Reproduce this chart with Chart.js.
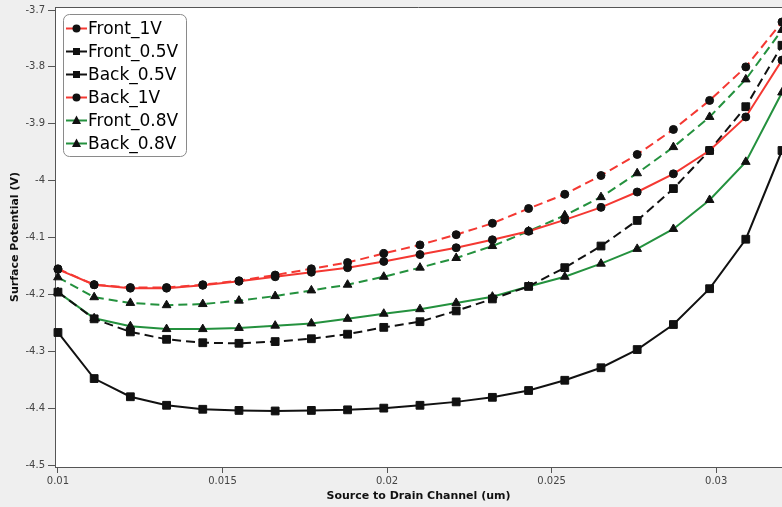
<!DOCTYPE html>
<html>
<head>
<meta charset="utf-8">
<script src="https://cdn.jsdelivr.net/npm/chart.js@4.4.0/dist/chart.umd.min.js"></script>
<style>
  html, body { margin: 0; padding: 0; background: #efefef; }
  #wrap { width: 782px; height: 507px; }
</style>
</head>
<body>
<div id="wrap"><canvas id="surfaceChart" width="782" height="507"></canvas></div>
<script>
// --- Data ---
const xValues = [0.01, 0.0111, 0.0122, 0.0133, 0.0144, 0.0155, 0.0166, 0.0177, 0.0188, 0.0199, 0.021,
                 0.0221, 0.0232, 0.0243, 0.0254, 0.0265, 0.0276, 0.0287, 0.0298, 0.0309, 0.032];

const front1V  = [-4.156, -4.183, -4.189, -4.189, -4.184, -4.177, -4.169, -4.161, -4.153, -4.142, -4.130,
                  -4.118, -4.104, -4.089, -4.069, -4.047, -4.020, -3.988, -3.947, -3.888, -3.788];
const front05V = [-4.267, -4.348, -4.380, -4.395, -4.402, -4.404, -4.405, -4.404, -4.403, -4.400, -4.395,
                  -4.389, -4.381, -4.369, -4.351, -4.329, -4.297, -4.253, -4.190, -4.103, -3.947];
const back05V  = [-4.196, -4.243, -4.266, -4.279, -4.285, -4.286, -4.283, -4.278, -4.270, -4.258, -4.248,
                  -4.229, -4.208, -4.186, -4.153, -4.115, -4.070, -4.014, -3.947, -3.870, -3.762];
const back1V   = [-4.155, -4.183, -4.188, -4.188, -4.183, -4.176, -4.166, -4.155, -4.144, -4.128, -4.113,
                  -4.095, -4.075, -4.049, -4.024, -3.991, -3.954, -3.910, -3.859, -3.800, -3.721];
const front08V = [-4.196, -4.242, -4.256, -4.261, -4.261, -4.259, -4.255, -4.251, -4.243, -4.234, -4.226,
                  -4.215, -4.204, -4.186, -4.169, -4.146, -4.120, -4.085, -4.034, -3.967, -3.845];
const back08V  = [-4.170, -4.205, -4.215, -4.219, -4.217, -4.211, -4.203, -4.193, -4.183, -4.169, -4.153,
                  -4.136, -4.115, -4.089, -4.061, -4.029, -3.987, -3.941, -3.888, -3.822, -3.735];

const xTicks = [0.01, 0.015, 0.02, 0.025, 0.03];
const yTicks = [-3.7, -3.8, -3.9, -4, -4.1, -4.2, -4.3, -4.4, -4.5];

const RED = '#f43832';
const GREEN = '#24913e';
const BLACK = '#111111';

// helper to pair x values with a series
const toPoints = (values) => values.map((v, i) => ({ x: xValues[i], y: v }));

const makeSet = (label, values, color, style, dashed) => ({
    label: label,
    data: toPoints(values),
    borderColor: color,
    borderWidth: 2,
    borderDash: dashed ? [9, 5] : [],
    pointStyle: style,
    pointRadius: style === 'triangle' ? 5 : (style === 'rect' ? 5.5 : 4),
    pointBackgroundColor: BLACK,
    pointBorderColor: BLACK,
    pointBorderWidth: 1,
    tension: 0,
    clip: false
});

// --- Marker drawing for the legend ---
function drawMarker(ctx, style, x, y) {
    ctx.fillStyle = BLACK;
    ctx.beginPath();
    if (style === 'circle') {
        ctx.arc(x, y, 4, 0, Math.PI * 2);
    } else if (style === 'rect') {
        ctx.rect(x - 3.5, y - 3.5, 7, 7);
    } else {
        ctx.moveTo(x, y - 5);
        ctx.lineTo(x + 4.5, y + 3.5);
        ctx.lineTo(x - 4.5, y + 3.5);
        ctx.closePath();
    }
    ctx.fill();
}

// background: grey page, white plot area, top border line
const plotBackground = {
    id: 'plotBackground',
    beforeDraw(chart) {
        const { ctx, chartArea } = chart;
        ctx.save();
        ctx.fillStyle = '#efefef';
        ctx.fillRect(0, 0, chart.width, chart.height);
        ctx.fillStyle = '#ffffff';
        ctx.fillRect(chartArea.left, chartArea.top, chartArea.right - chartArea.left, chartArea.bottom - chartArea.top);
        ctx.restore();
    },
    afterDraw(chart) {
        const { ctx, chartArea } = chart;
        ctx.save();
        ctx.strokeStyle = '#555555';
        ctx.lineWidth = 1;
        ctx.beginPath();
        ctx.moveTo(chartArea.left, chartArea.top + 0.5);
        ctx.lineTo(chartArea.right, chartArea.top + 0.5);
        ctx.stroke();
        ctx.restore();
    }
};

// legend box in the upper left of the plot
const legendBox = {
    id: 'legendBox',
    afterDraw(chart) {
        const ctx = chart.ctx;
        const sets = chart.data.datasets;
        ctx.save();
        ctx.fillStyle = '#ffffff';
        ctx.strokeStyle = '#8a8a8a';
        ctx.lineWidth = 1;
        ctx.beginPath();
        ctx.roundRect(63.5, 14.5, 123, 142, 6);
        ctx.fill();
        ctx.stroke();

        sets.forEach((ds, i) => {
            const y = 28.5 + i * 23;
            ctx.strokeStyle = ds.borderColor;
            ctx.lineWidth = 2;
            ctx.setLineDash([]);
            ctx.beginPath();
            ctx.moveTo(66, y);
            ctx.lineTo(87, y);
            ctx.stroke();
            drawMarker(ctx, ds.pointStyle, 76.5, y);
            ctx.fillStyle = '#000000';
            ctx.font = '17px "DejaVu Sans"';
            ctx.textBaseline = 'middle';
            ctx.textAlign = 'left';
            ctx.fillText(ds.label, 88, y + 1);
        });
        ctx.restore();
    }
};

const tickFont = { family: 'DejaVu Sans', size: 10 };
const titleFont = { family: 'DejaVu Sans', size: 11, weight: 'bold' };

new Chart(document.getElementById('surfaceChart').getContext('2d'), {
    type: 'line',
    data: {
        datasets: [
            makeSet('Front_1V', front1V, RED, 'circle', false),
            makeSet('Front_0.5V', front05V, BLACK, 'rect', false),
            makeSet('Back_0.5V', back05V, BLACK, 'rect', true),
            makeSet('Back_1V', back1V, RED, 'circle', true),
            makeSet('Front_0.8V', front08V, GREEN, 'triangle', false),
            makeSet('Back_0.8V', back08V, GREEN, 'triangle', true)
        ]
    },
    options: {
        responsive: false,
        animation: false,
        layout: { autoPadding: false, padding: { top: 7, left: 0, right: 0, bottom: 0 } },
        plugins: {
            legend: { display: false },
            tooltip: { enabled: false }
        },
        scales: {
            x: {
                type: 'linear',
                min: 0.00991,
                max: 0.032,
                afterBuildTicks: (scale) => { scale.ticks = xTicks.map(v => ({ value: v })); },
                afterFit: (scale) => {
                    scale.height = 40;
                    scale.paddingLeft = 0;
                    scale.paddingRight = 0;
                },
                ticks: {
                    font: tickFont,
                    color: '#444444',
                    padding: 2,
                    maxRotation: 0,
                    callback: (v) => String(+v.toFixed(4))
                },
                grid: { drawOnChartArea: false, drawTicks: true, tickLength: 6, color: '#555555' },
                border: { display: true, color: '#555555', width: 1 },
                title: {
                    display: true,
                    text: 'Source to Drain Channel (um)',
                    font: titleFont,
                    color: '#111111',
                    padding: { top: 0, bottom: 4 }
                }
            },
            y: {
                type: 'linear',
                min: -4.5035,
                max: -3.6947,
                afterBuildTicks: (scale) => { scale.ticks = yTicks.map(v => ({ value: v })); },
                afterFit: (scale) => {
                    scale.width = 55;
                    scale.paddingTop = 0;
                    scale.paddingBottom = 0;
                },
                ticks: {
                    font: tickFont,
                    color: '#444444',
                    padding: 3,
                    callback: (v) => String(+v.toFixed(2))
                },
                grid: { drawOnChartArea: false, drawTicks: true, tickLength: 7, color: '#555555' },
                border: { display: true, color: '#555555', width: 1 },
                title: {
                    display: true,
                    text: 'Surface Potential (V)',
                    font: titleFont,
                    color: '#111111',
                    padding: { top: 9, bottom: 0 }
                }
            }
        }
    },
    plugins: [plotBackground, legendBox]
});
</script>
</body>
</html>
